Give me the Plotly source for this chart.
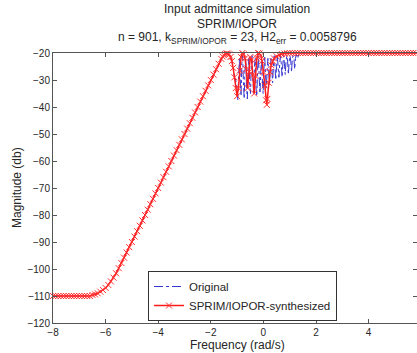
import plotly.graph_objects as go

# ---- data ----
# SPRIM/IOPOR-synthesized response (log10 frequency, dB)
synth_x = [-8.0, -7.9, -7.8, -7.7, -7.6, -7.5, -7.4, -7.3, -7.2, -7.1, -7.0, -6.9, -6.8, -6.7, -6.6,
           -6.5, -6.4, -6.3, -6.2, -6.1, -6.0, -5.9, -5.8, -5.7, -5.6, -5.5, -5.4, -5.3, -5.2, -5.1,
           -5.0, -4.9, -4.8, -4.7, -4.6, -4.5, -4.4, -4.3, -4.2, -4.1, -4.0, -3.9, -3.8, -3.7, -3.6,
           -3.5, -3.4, -3.3, -3.2, -3.1, -3.0, -2.9, -2.8, -2.7, -2.6, -2.5, -2.4, -2.3, -2.2, -2.1,
           -2.0, -1.9, -1.8, -1.7, -1.6,
           -1.55, -1.5, -1.45, -1.4, -1.35, -1.3, -1.25, -1.2, -1.15, -1.1, -1.05, -1.0, -0.95, -0.9,
           -0.85, -0.8, -0.75, -0.7, -0.65, -0.6, -0.55, -0.5, -0.45, -0.4, -0.35, -0.3, -0.25, -0.2,
           -0.15, -0.1, -0.05, 0.0, 0.05, 0.1, 0.13, 0.15, 0.2, 0.25, 0.3, 0.35, 0.4,
           0.5, 0.6, 0.7, 0.8, 0.9, 1.0, 1.1, 1.2, 1.3, 1.4, 1.5, 1.6, 1.7, 1.8, 1.9, 2.0,
           2.1, 2.2, 2.3, 2.4, 2.5, 2.6, 2.7, 2.8, 2.9, 3.0, 3.1, 3.2, 3.3, 3.4, 3.5, 3.6, 3.7,
           3.8, 3.9, 4.0, 4.1, 4.2, 4.3, 4.4, 4.5, 4.6, 4.7, 4.8, 4.9, 5.0, 5.1, 5.2, 5.3, 5.4,
           5.5, 5.6, 5.7, 5.8, 5.9, 6.0]
synth_db = [-110.0, -110.0, -110.0, -110.0, -110.0, -110.0, -110.0, -110.0, -110.0, -110.0, -110.0,
            -110.0, -110.0, -110.0, -110.0,
            -109.6, -109.4, -109.0, -108.4, -107.8, -107.0, -105.9, -104.6, -103.2, -101.6, -99.7,
            -97.8, -95.8, -93.9, -91.9,
            -90.0, -88.0, -86.0, -84.0, -82.0, -80.0, -78.0, -76.0, -74.0, -72.0, -70.0, -68.0,
            -66.0, -64.0, -62.0, -60.0, -58.0, -56.0, -54.0, -52.0, -50.0, -48.0, -46.0, -44.0,
            -42.0, -40.0, -38.0, -36.0, -34.0, -32.0, -30.0, -28.0, -26.0, -24.0, -22.2,
            -21.3, -20.8, -20.4, -20.2, -20.2, -20.5, -21.5, -23.0, -25.5, -29.0, -33.0, -36.0,
            -33.0, -26.5, -21.5, -20.0, -20.5, -22.0, -26.0, -33.0, -27.0, -21.5, -22.5, -28.0,
            -35.0, -28.5, -22.0, -20.0, -20.2, -21.0, -23.0, -27.0, -32.0, -37.5, -39.2, -37.0,
            -31.0, -27.0, -24.5, -23.0, -22.0,
            -21.2, -20.7, -20.4, -20.2, -20.1, -20.0, -20.0, -20.0, -20.0, -20.0, -20.0, -20.0,
            -20.0, -20.0, -20.0, -20.0, -20.0, -20.0, -20.0, -20.0, -20.0, -20.0, -20.0, -20.0,
            -20.0, -20.0, -20.0, -20.0, -20.0, -20.0, -20.0, -20.0, -20.0, -20.0, -20.0, -20.0,
            -20.0, -20.0, -20.0, -20.0, -20.0, -20.0, -20.0, -20.0, -20.0, -20.0, -20.0, -20.0,
            -20.0, -20.0, -20.0, -20.0, -20.0, -20.0]

# Original response: identical to the synthesized one outside the resonance band,
# these are the values read inside the band
orig_band_x = [-1.05, -1.0, -0.97, -0.94, -0.91, -0.88, -0.85, -0.82, -0.79, -0.76, -0.73, -0.7,
               -0.67, -0.64, -0.61, -0.58, -0.55, -0.52, -0.49, -0.46, -0.43, -0.4, -0.37, -0.34,
               -0.31, -0.28, -0.25, -0.22, -0.19, -0.16, -0.13, -0.1, -0.07, -0.04, -0.01, 0.02,
               0.05, 0.08, 0.11, 0.14, 0.17, 0.2, 0.23, 0.26, 0.29, 0.32, 0.35, 0.38, 0.41, 0.44,
               0.47, 0.5, 0.53, 0.56, 0.59, 0.62, 0.65, 0.68, 0.71, 0.74, 0.77, 0.8, 0.83, 0.86,
               0.89, 0.92, 0.95, 0.98, 1.01, 1.04, 1.07, 1.1, 1.13, 1.16, 1.19, 1.22, 1.25, 1.3,
               1.35]
orig_band_db = [-30, -36, -37.5, -28, -22, -30, -36, -24, -21, -31, -37, -26,
                -22, -33, -37, -25, -22, -32, -35, -24, -21, -30, -35, -25,
                -22, -33, -36, -26, -21, -29, -35, -27, -22, -30, -35, -26,
                -21, -28, -33, -27, -22, -27, -32, -26, -22, -26, -31, -25, -21, -25,
                -30, -25, -21, -25, -29, -24, -21, -24, -29, -24, -21, -24, -28, -23,
                -21, -23, -28, -23, -21, -23, -27, -22, -21, -22, -26, -22, -20.5, -22,
                -20.3]

legend_names = ["Original", "SPRIM/IOPOR-synthesized"]
x_ticks = [-8, -6, -4, -2, 0, 2, 4, 6]
y_ticks = [-120, -110, -100, -90, -80, -70, -60, -50, -40, -30, -20]

# build original series
band_lo, band_hi = orig_band_x[0], orig_band_x[-1]
orig_x, orig_db = [], []
for xv, yv in zip(synth_x, synth_db):
    if xv < band_lo:
        orig_x.append(xv); orig_db.append(yv)
orig_x += orig_band_x
orig_db += orig_band_db
for xv, yv in zip(synth_x, synth_db):
    if xv > band_hi:
        orig_x.append(xv); orig_db.append(yv)

FONT = "Liberation Sans, Arial, Helvetica, sans-serif"
W, H = 417, 353
L, T, B = 53, 53, 30
R = 0

fig = go.Figure()
fig.add_trace(go.Scatter(
    x=orig_x, y=orig_db, name=legend_names[0], mode="lines",
    line=dict(color="#3535d0", width=1, dash="dashdot"),
))
fig.add_trace(go.Scatter(
    x=synth_x, y=synth_db, name=legend_names[1], mode="lines+markers",
    line=dict(color="#ff1a1a", width=1.5),
    marker=dict(symbol="x-thin", size=6, line=dict(color="#ff3030", width=1)),
    cliponaxis=False,
))

axis_common = dict(
    showgrid=False, zeroline=False, showline=True, linecolor="#555555", linewidth=1,
    mirror="ticks", ticks="inside", ticklen=4, tickcolor="#555555",
    tickfont=dict(family=FONT, size=10, color="#262626"),
)
fig.update_xaxes(range=[-8, 5.84], tickvals=x_ticks, **axis_common)
fig.update_yaxes(range=[-120, -20], tickvals=y_ticks, **axis_common)

px_w = W - L - R
plot_h = H - T - B
def px_to_paper_x(px):
    return (px - L) / px_w

title_lines = [
    ("Input admittance simulation", 8.5),
    ("SPRIM/IOPOR", 23.5),
    ("n = 901, k<sub>SPRIM/IOPOR</sub> = 23, H2<sub>err</sub> = 0.0058796", 37.5),
]
annots = []
for txt, cy in title_lines:
    annots.append(dict(text=txt, xref="paper", yref="paper", x=px_to_paper_x(237),
                       y=1 + (T - cy) / plot_h, xanchor="center", yanchor="middle",
                       showarrow=False, font=dict(family=FONT, size=12, color="#262626")))
annots.append(dict(text="Frequency (rad/s)", xref="paper", yref="paper", x=px_to_paper_x(237),
                   y=-(345 - (H - B)) / plot_h, xanchor="center", yanchor="middle",
                   showarrow=False, font=dict(family=FONT, size=12, color="#262626")))
annots.append(dict(text="Magnitude (db)", xref="paper", yref="paper", x=-(L - 17) / px_w,
                   y=0.5, xanchor="center", yanchor="middle", textangle=-90,
                   showarrow=False, font=dict(family=FONT, size=12, color="#262626")))

fig.update_layout(
    width=W, height=H, margin=dict(l=L, r=R, t=T, b=B),
    paper_bgcolor="white", plot_bgcolor="white",
    annotations=annots,
    showlegend=True,
    legend=dict(x=px_to_paper_x(148), y=(H - B - 271) / plot_h, xanchor="left", yanchor="top",
                bgcolor="white", bordercolor="#333333", borderwidth=1,
                font=dict(family=FONT, size=11.5, color="#262626"),
                itemwidth=30, tracegroupgap=0),
)

fig.write_html("out.html")
